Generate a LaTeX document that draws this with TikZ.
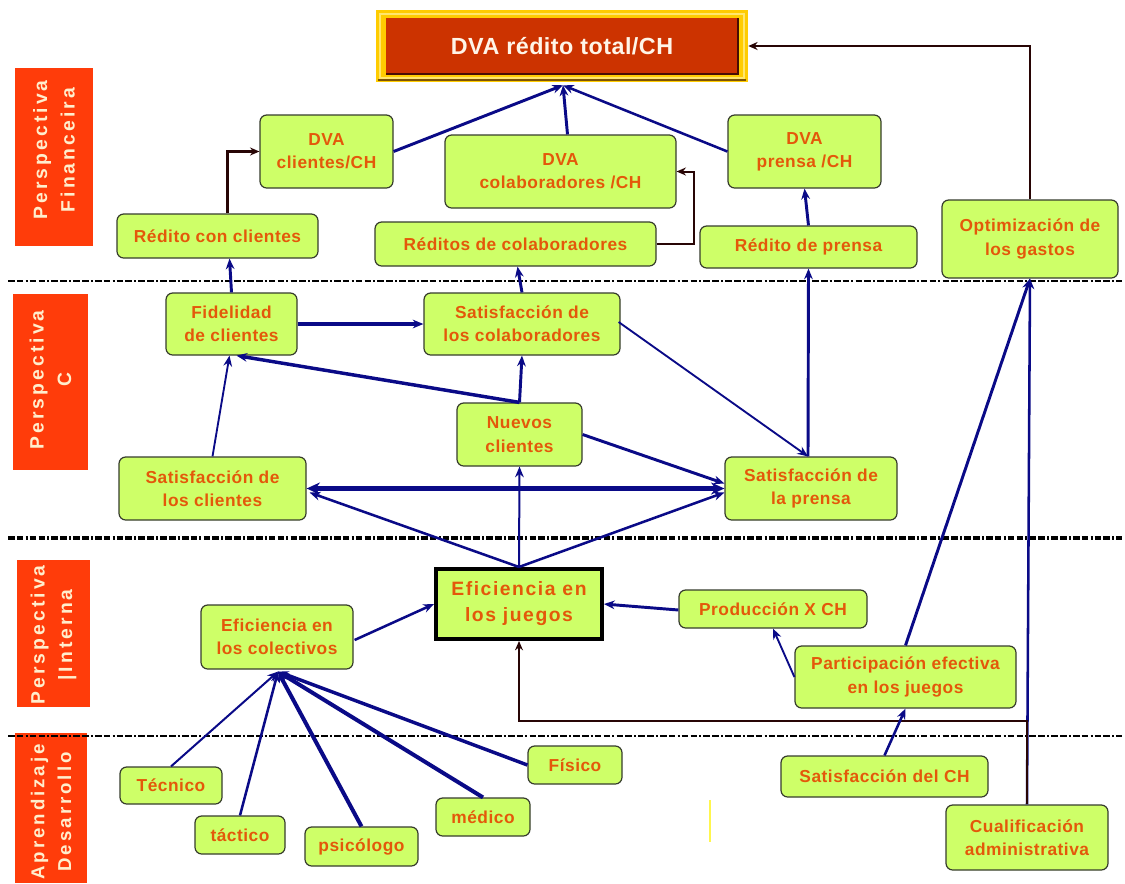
\documentclass[tikz,border=0pt]{standalone}
\usepackage{fontspec}
\setmainfont{Liberation Sans}
\newfontfamily\boxfont{Liberation Sans}[LetterSpace=3]
\newfontfamily\juegofont{Liberation Sans}[LetterSpace=8]
\newfontfamily\labfont{Liberation Sans}[LetterSpace=16]
\newfontfamily\titfont{Liberation Sans}[LetterSpace=2]
\usetikzlibrary{arrows.meta,calc}
\definecolor{boxfill}{RGB}{206,255,104}
\definecolor{boxdraw}{RGB}{55,60,45}
\definecolor{boxtext}{RGB}{228,88,10}
\definecolor{navy}{RGB}{10,10,135}
\definecolor{labred}{RGB}{255,60,10}
\definecolor{labtext}{RGB}{255,238,205}
\definecolor{gold}{RGB}{255,204,0}
\definecolor{paleGold}{RGB}{255,230,110}
\definecolor{titlered}{RGB}{204,51,0}
\definecolor{darkbrown}{RGB}{40,5,5}
\tikzset{
  gbox/.style={draw=boxdraw, fill=boxfill, rounded corners=5pt, line width=0.9pt,
    text=boxtext, font=\boxfont\bfseries\fontsize{13}{17.5}\selectfont, align=center, inner sep=0pt},
  jbox/.style={draw=black, fill=boxfill, rounded corners=0pt, line width=3pt,
    font=\juegofont\bfseries\fontsize{14.5}{19.5}\selectfont},
  labtxt/.style={text=labtext, font=\labfont\bfseries\fontsize{14.5}{20.5}\selectfont,
    align=center, rotate=90, inner sep=0pt},
  arr/.style={draw=navy, -{Stealth[length=8pt,width=6.5pt]}},
  blk/.style={draw=darkbrown, -{Stealth[length=7pt,width=6pt]}},
  sep/.style={draw=black, dash pattern=on 5pt off 1.6pt on 5pt off 1.6pt on 1.5pt off 1.6pt},
}
\newcommand\gnode[7]{\node[gbox,#1,minimum width={(#5-#3)*0.75pt},minimum height={(#6-#4)*0.75pt}] (#2) at ({(#3+#5)/2},{(#4+#6)/2}) {#7};}
\begin{document}
\begin{tikzpicture}[x=0.75pt,y=-0.75pt]
\useasboundingbox (0,0) rectangle (1125,883);
\fill[white] (0,0) rectangle (1125,883);

% title box
\fill[gold] (376,10) rectangle (748,82);
\draw[paleGold, line width=1.5pt] (380,14) rectangle (744,78);
\fill[titlered] (386,18) rectangle (738,74);
\draw[darkbrown!80!titlered, line width=2pt] (386,74) -- (738,74) -- (738,18);
\draw[darkbrown!60!gold, line width=1.2pt] (378,80) -- (746,80);
\node[minimum width={372*0.75pt}, minimum height={72*0.75pt}, inner sep=0pt,
  text={rgb,255:red,255;green,245;blue,232}, font=\titfont\bfseries\fontsize{17.5}{20}\selectfont]
  (title) at (562,46) {DVA rédito total/CH};

% perspective labels
\fill[labred] (15,68) rectangle (93,246);
\node[labtxt] (lf) at (54,150) {Perspectiva\\Financeira};
\fill[labred] (13,294) rectangle (88,470);
\node[labtxt] (lc) at (50.5,380) {Perspectiva\\C};
\fill[labred] (17,560) rectangle (90,707);
\node[labtxt, anchor=west] (li) at (53.5,705) {Perspectiva\\|Interna};
\fill[labred] (15,733) rectangle (87,883);
\node[labtxt, anchor=west, font=\labfont\bfseries\fontsize{14}{20}\selectfont] (la) at (51,880) {Aprendizaje\\Desarrollo};

% separators
\draw[sep, line width=1.6pt] (8,281) -- (1122,281);
\draw[sep, line width=2.4pt] (8,538) -- (1122,538);
\draw[sep, line width=1.6pt] (8,736) -- (1122,736);

% yellow mark
\draw[yellow!70!white, line width=1.2pt] (710,800) -- (710,842);

% boxes
\gnode{}{dvacl}{260}{115}{393}{188}{DVA\\clientes/CH}
\gnode{}{dvaco}{445}{135}{676}{208}{DVA\\colaboradores /CH}
\gnode{}{dvapr}{728}{115}{881}{188}{DVA\\prensa /CH}
\gnode{}{redcl}{117}{214}{318}{258}{Rédito con clientes}
\gnode{}{redco}{375}{222}{656}{266}{Réditos de colaboradores}
\gnode{}{redpr}{700}{226}{917}{268}{Rédito de prensa}
\gnode{}{optim}{942}{200}{1118}{278}{Optimización de\\los gastos}
\gnode{}{fid}{166}{293}{297}{355}{Fidelidad\\de clientes}
\gnode{}{satco}{424}{293}{620}{355}{Satisfacción de\\los colaboradores}
\gnode{}{nuevos}{457}{403}{582}{466}{Nuevos\\clientes}
\gnode{}{satcl}{119}{457}{306}{520}{Satisfacción de\\los clientes}
\gnode{}{satpr}{725}{457}{897}{520}{Satisfacción de\\la prensa}
\gnode{jbox}{efjue}{436}{569}{602}{639}{Eficiencia en\\los juegos}
\gnode{}{efcol}{201}{605}{353}{669}{Eficiencia en\\los colectivos}
\gnode{}{prod}{679}{590}{867}{628}{Producción X CH}
\gnode{}{part}{795}{646}{1016}{708}{Participación efectiva\\en los juegos}
\gnode{}{tec}{120}{767}{222}{804}{Técnico}
\gnode{}{tac}{195}{816}{285}{854}{táctico}
\gnode{}{psi}{305}{827}{418}{866}{psicólogo}
\gnode{}{med}{436}{798}{530}{836}{médico}
\gnode{}{fis}{528}{746}{622}{784}{Físico}
\gnode{}{satch}{781}{756}{988}{797}{Satisfacción del CH}
\gnode{}{cual}{946}{805}{1108}{870}{Cualificación\\administrativa}

\coordinate (tb) at ($(title.south)+(1,3)$);
\coordinate (hub) at ($(efcol.south)+(1,2)$);

% financial connectors
\draw[arr, line width=2.2pt] (dvacl.east) -- (tb);
\draw[arr, line width=2.2pt] ($(dvaco.north)+(7,0)$) -- (tb);
\draw[arr, line width=1.9pt] (dvapr.west) -- (tb);
\draw[blk, line width=1.9pt] ($(redcl.north)+(10,0)$) |- (dvacl.west);
\draw[blk, line width=1.5pt] (redco.east) -- ++(37,0) |- (dvaco.east);
\draw[arr, line width=2.2pt] (redpr.north) -- (dvapr.south);
\draw[blk, line width=2.2pt] (optim.north) |- (title.east);

% client perspective
\draw[arr, line width=2.2pt] (fid.north) -- ($(redcl.south)+(12,0)$);
\draw[arr, line width=2.2pt] (satco.north) -- ($(redco.south)+(2,0)$);
\draw[arr, line width=2.2pt] ($(satpr.north)+(-3,0)$) -- (redpr.south);
\draw[arr, line width=2.6pt] (fid.east) -- (satco.west);
\draw[arr, line width=1.4pt] ($(satco.east)+(-2,-2)$) -- ($(satpr.north)+(-3,0)$);
\draw[arr, line width=2.6pt] (nuevos.north) -- ($(fid.south)+(5,0)$);
\draw[arr, line width=2.2pt] (nuevos.north) -- (satco.south);
\draw[arr, line width=1.4pt] (satcl.north) -- ($(fid.south)+(-2,0)$);
\draw[arr, line width=2.2pt] (nuevos.east) -- ($(satpr.west)+(0,-5)$);
\draw[navy, line width=3.9pt, {Stealth[length=10pt,width=9pt]}-{Stealth[length=10pt,width=9pt]}] (satcl.east) -- (satpr.west);

% internal perspective
\draw[arr, line width=1.9pt] (efjue.north) -- ($(satcl.east)+(3,4)$);
\draw[arr, line width=1.5pt] (efjue.north) -- (nuevos.south);
\draw[arr, line width=1.9pt] (efjue.north) -- ($(satpr.west)+(0,4)$);
\draw[arr, line width=1.9pt] ($(efcol.east)+(1,3)$) -- (efjue.west);
\draw[arr, line width=2.2pt] ($(prod.west)+(0,1)$) -- ($(efjue.east)+(0,0)$);
\draw[arr, line width=1.4pt] (part.west) -- (prod.south);
\draw[arr, line width=2.2pt] (part.north) -- (optim.south);
\draw[arr, line width=1.9pt] (cual.north) -- (optim.south);
\draw[blk, line width=1.6pt] (cual.north) -- ++(0,-83) -| (efjue.south);
\draw[arr, line width=1.9pt] (satch.north) -- (part.south);

% learning perspective
\draw[arr, line width=1.5pt] (tec.north) -- (hub);
\draw[arr, line width=1.9pt] (tac.north) -- (hub);
\draw[arr, line width=3pt] (psi.north) -- (hub);
\draw[arr, line width=3pt] (med.north) -- (hub);
\draw[arr, line width=2.6pt] (fis.west) -- (hub);
\end{tikzpicture}
\end{document}
